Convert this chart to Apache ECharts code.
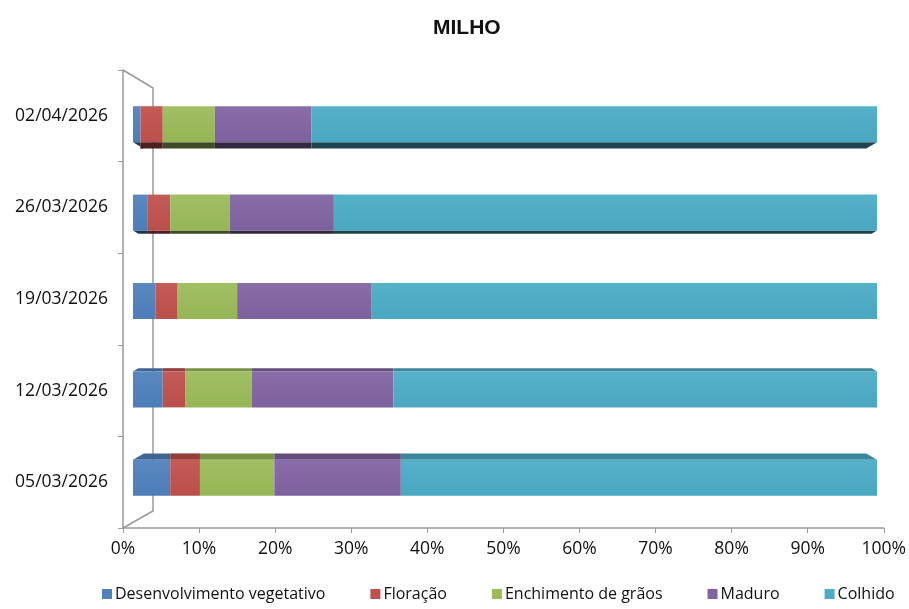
<!DOCTYPE html>
<html><head><meta charset="utf-8">
<script src="https://cdn.jsdelivr.net/npm/echarts@6/dist/echarts.min.js"></script>
<style>html,body{margin:0;padding:0;background:#fff}#c{width:909px;height:609px}</style>
</head><body><div id="c"></div>
<script>
const categories = ['05/03/2026','12/03/2026','19/03/2026','26/03/2026','02/04/2026'];
const desenvolvimento = [5, 4, 3, 2, 1];
const floracao = [4, 3, 3, 3, 3];
const enchimento = [10, 9, 8, 8, 7];
const maduro = [17, 19, 18, 14, 13];
const colhido = [64, 65, 68, 73, 76];
const xTicks = [0,10,20,30,40,50,60,70,80,90,100];

const seriesNames = ['Desenvolvimento vegetativo','Floração','Enchimento de grãos','Maduro','Colhido'];
const seriesValues = [desenvolvimento, floracao, enchimento, maduro, colhido];
const colors = ['#4F81BD','#C0504D','#9BBB59','#8064A2','#4BACC6'];

function shade(hex, f) {
  const n = parseInt(hex.slice(1), 16);
  const r = (n >> 16) & 255, g = (n >> 8) & 255, b = n & 255;
  const t = v => Math.max(0, Math.min(255, Math.round(f < 1 ? v * f : v + (255 - v) * (f - 1))));
  return 'rgb(' + t(r) + ',' + t(g) + ',' + t(b) + ')';
}

const cum = categories.map(() => 0);
const series = seriesValues.map((vals, si) => {
  const data = vals.map((v, ci) => { const s = cum[ci]; cum[ci] += v; return [s, cum[ci], ci]; });
  const col = colors[si];
  return {
    name: seriesNames[si], type: 'custom', xAxisIndex: 1, yAxisIndex: 1, z: 3,
    itemStyle: { color: col },
    encode: { x: [0, 1], y: 2 },
    data: data,
    renderItem: function (params, api) {
      const st = api.coord([api.value(0), api.value(2)]);
      const en = api.coord([api.value(1), api.value(2)]);
      const h = 36;
      const y0 = st[1] - h / 2, y1 = st[1] + h / 2;
      const dy = (300 - st[1]) * 0.036;
      const ins = Math.abs(dy) * 1.7;
      const li = api.value(0) <= 0.001 ? ins : 0;
      const ri = api.value(1) >= 99.999 ? ins : 0;
      const children = [];
      if (Math.abs(dy) > 0.5) {
        let pts;
        if (dy > 0) pts = [[st[0], y1], [en[0], y1], [en[0] - ri, y1 + dy], [st[0] + li, y1 + dy]];
        else pts = [[st[0], y0], [en[0], y0], [en[0] - ri, y0 + dy], [st[0] + li, y0 + dy]];
        children.push({ type: 'polygon', shape: { points: pts },
          style: { fill: shade(col, dy > 0 ? 0.4 : 0.78) } });
      }
      children.push({ type: 'rect', shape: { x: st[0], y: y0, width: en[0] - st[0], height: h },
        style: { fill: {type:'linear',x:0,y:0,x2:0,y2:1,colorStops:[{offset:0,color:shade(col,1.06)},{offset:1,color:shade(col,0.97)}]} } });
      return { type: 'group', children: children };
    }
  };
});

const chart = echarts.init(document.getElementById('c'));
chart.setOption({
  animation: false,
  backgroundColor: '#fff',
  title: { text: 'MILHO', left: 428, top: 13,
    textStyle: { fontFamily: 'Liberation Sans', fontWeight: 'bold', fontSize: 21, color: '#111' } },
  legend: {
    bottom: 2, left: 97, itemWidth: 10, itemHeight: 10, itemGap: 45, icon: 'rect',
    textStyle: { fontFamily: 'Open Sans', fontSize: 16, color: '#111', padding: [0, 0, 0, -2] },
    data: seriesNames
  },
  grid: [
    { left: 123, right: 24, top: 70, bottom: 81 },
    { left: 133, right: 32, top: 80, bottom: 87 }
  ],
  xAxis: [
    { type: 'value', gridIndex: 0, min: 0, max: 100, interval: 10,
      axisLine: { show: true, lineStyle: { color: '#999', width: 1.5 } },
      axisTick: { show: true, length: 5, lineStyle: { color: '#999' } },
      splitLine: { show: false },
      axisLabel: { formatter: v => v + '%', fontFamily: 'Open Sans', fontSize: 17.5, color: '#111', margin: 12 } },
    { type: 'value', gridIndex: 1, min: 0, max: 100, show: false, splitLine: { show: false } }
  ],
  yAxis: [
    { type: 'category', gridIndex: 0, data: categories,
      axisLine: { show: true, lineStyle: { color: '#999', width: 1.5 } },
      axisTick: { show: true, length: 5, lineStyle: { color: '#999' } },
      axisLabel: { fontFamily: 'Open Sans', fontSize: 17.5, color: '#111', margin: 15 } },
    { type: 'category', gridIndex: 1, data: categories, show: false }
  ],
  graphic: [
    { type: 'polyline', z: 1, shape: { points: [[123, 70], [153, 88], [153, 511], [123, 528]] },
      style: { stroke: '#999', lineWidth: 1.5, fill: null } }
  ],
  series: series
});
</script></body></html>
